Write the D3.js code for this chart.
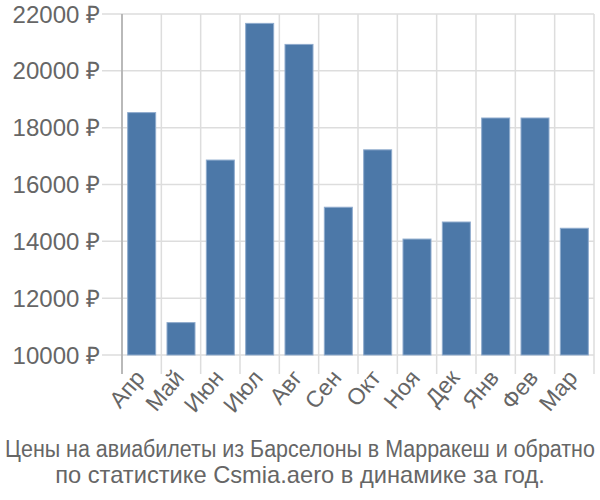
<!DOCTYPE html>
<html><head><meta charset="utf-8">
<script src="https://cdn.jsdelivr.net/npm/d3@7"></script>
<style>body{margin:0;background:#fff}svg{display:block}</style>
</head><body>
<script>
const months = ["Апр","Май","Июн","Июл","Авг","Сен","Окт","Ноя","Дек","Янв","Фев","Мар"];
const prices = [18530,11140,16860,21670,20930,15200,17220,14080,14680,18340,18340,14460];
const yTicks = [10000,12000,14000,16000,18000,20000,22000];
const titleLines = ["Цены на авиабилеты из Барселоны в Марракеш и обратно","по статистике Csmia.aero в динамике за год."];

const W=600,H=500,L=122,R=594,T=14,B=355;
const svg=d3.select("body").append("svg").attr("width",W).attr("height",H);
const x=d3.scaleBand().domain(months).range([L,R]).paddingInner(0.288).paddingOuter(0.144);
const y=d3.scaleLinear().domain([10000,22000]).range([B,T]);
const font="'Liberation Sans', Arial, sans-serif";
const grid="#dddddd", txt="#666666";

svg.append("g").selectAll("line").data(yTicks).join("line")
  .attr("x1",L-20).attr("x2",R).attr("y1",d=>y(d)).attr("y2",d=>y(d))
  .attr("stroke",grid).attr("stroke-width",1.5);
const bounds=months.map(m=>x(m)-x.step()*x.paddingInner()/2).concat([R]);
svg.append("g").selectAll("line").data(bounds).join("line")
  .attr("x1",d=>d).attr("x2",d=>d).attr("y1",T).attr("y2",B+19)
  .attr("stroke",grid).attr("stroke-width",1.5);
svg.append("line").attr("x1",L).attr("x2",L).attr("y1",T).attr("y2",B+19)
  .attr("stroke","#aaaaaa").attr("stroke-width",1.5);

svg.append("g").selectAll("rect").data(prices).join("rect")
  .attr("x",(d,i)=>x(months[i])).attr("width",x.bandwidth())
  .attr("y",d=>y(d)).attr("height",d=>B-y(d))
  .attr("fill","#4c78a8").attr("stroke","#8fabcd").attr("stroke-width",1);

svg.append("g").selectAll("text").data(yTicks).join("text")
  .attr("x",L-22).attr("y",d=>y(d)).attr("dy","0.36em")
  .attr("text-anchor","end").attr("font-family",font).attr("font-size",24)
  .attr("fill",txt).text(d=>d+" ₽");

svg.append("g").selectAll("text").data(months).join("text")
  .attr("transform",d=>`translate(${x(d)+x.bandwidth()/2-8},${B+13}) rotate(-50)`)
  .attr("text-anchor","end").attr("dy","0.7em").attr("font-family",font).attr("font-size",23)
  .attr("fill",txt).text(d=>d);

const tl=[590,490];
svg.append("g").selectAll("text").data(titleLines).join("text")
  .attr("text-anchor","middle")
  .attr("font-family",font).attr("font-size",23)
  .attr("fill",txt).text(d=>d)
  .each(function(d,i){
    const len=this.getComputedTextLength();
    const s=tl[i]/len;
    d3.select(this).attr("transform",`translate(${W/2},${457+i*26}) scale(${s},1)`);
  });
</script>
</body></html>
